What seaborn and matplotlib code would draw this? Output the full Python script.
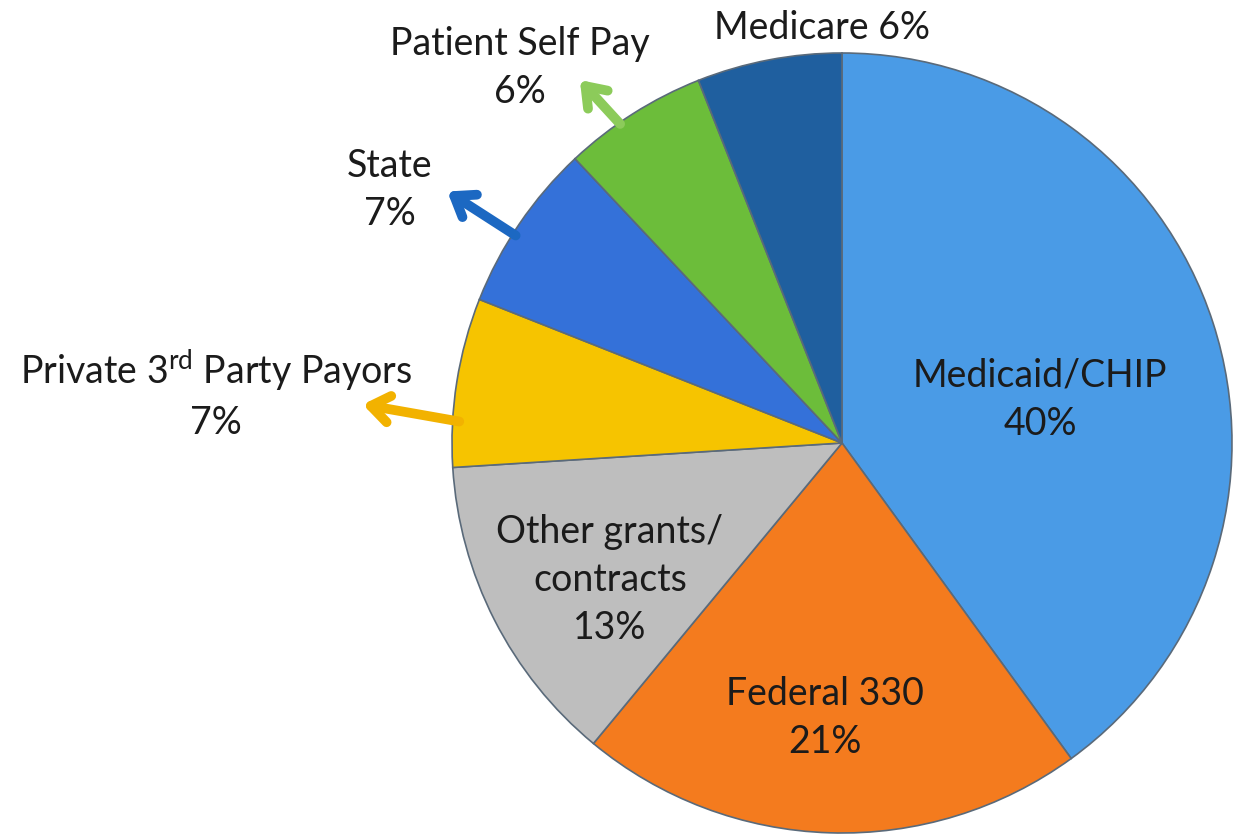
import matplotlib
matplotlib.use("Agg")
import matplotlib.pyplot as plt
import seaborn as sns

# slices, clockwise from 12 o'clock
labels = ["Medicaid/CHIP", "Federal 330", "Other grants/\ncontracts",
          "Private 3$^{rd}$ Party Payors", "State", "Patient Self Pay", "Medicare"]
shares = [40, 21, 13, 7, 7, 6, 6]
colors = ["#4A9BE6", "#F47B1E", "#BEBEBE", "#F6C400", "#3471D9", "#6CBD3A", "#1F5F9F"]

sns.set_theme(style="white")
plt.rcParams["font.family"] = ["Lato", "DejaVu Sans"]
plt.rcParams["mathtext.default"] = "regular"

fig = plt.figure(figsize=(12.4, 8.4), dpi=100)
ax = fig.add_axes([0, 0, 1, 1])

wedges, _ = ax.pie(shares, colors=colors, startangle=90, counterclock=False,
                   center=(842, 397), radius=390,
                   wedgeprops=dict(edgecolor="#5a6a7a", linewidth=1.2))
ax.set_xlim(0, 1240)
ax.set_ylim(0, 840)
ax.set_aspect("equal")
ax.axis("off")

fs = 27
tc = "#1b1b1b"
txt = [f"{l}\n{v}%" for l, v in zip(labels, shares)]
txt[-1] = f"{labels[-1]} {shares[-1]}%"

# label positions (pixel space, y up)
pos = [(1040, 440), (825, 122), (610, 260), (216, 446), (390, 650), (520, 772), (822, 812)]
for t, (x, y) in zip(txt, pos):
    ax.text(x, y, t, ha="center", va="center", fontsize=fs, color=tc,
            linespacing=1.42)

# arrows for the small outside labels
arrows = [((462, 418), (360, 436), "#F2B200"),
          ((518, 603), (445, 650), "#1C68C2"),
          ((622, 714), (578, 762), "#8CCB5A")]
for (x0, y0), (x1, y1), c in arrows:
    ax.annotate("", xy=(x1, y1), xytext=(x0, y0),
                arrowprops=dict(arrowstyle="->,head_length=1.1,head_width=0.8",
                                color=c, lw=7))

fig.savefig("out.png", dpi=100)
